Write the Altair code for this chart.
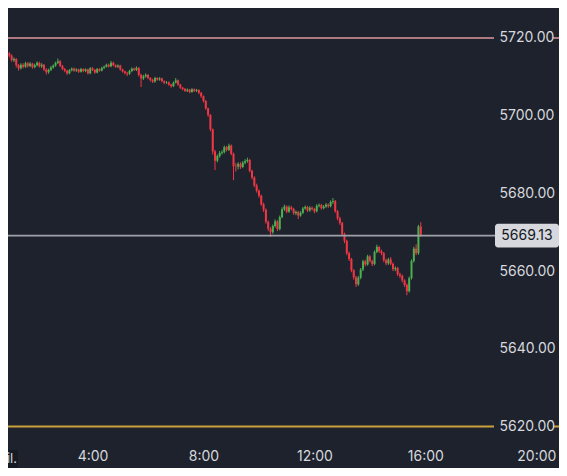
import altair as alt
import pandas as pd

# ---------------- data (5-minute bars, first bar at 0:50) ----------------
start_hour = 50 / 60
bar_step = 5 / 60

close = [
    5716.9, 5716.0, 5715.5, 5714.3, 5714.6, 5713.0, 5712.2, 5713.1, 5712.6, 5713.5,
    5712.8, 5713.4, 5712.5, 5713.0, 5713.6, 5712.7, 5713.1, 5711.9, 5711.2, 5711.8,
    5712.4, 5712.9, 5713.6, 5714.0, 5712.8, 5712.0, 5711.6, 5710.9, 5711.7, 5712.1,
    5711.6, 5711.9, 5711.3, 5712.0, 5711.5, 5711.9, 5710.9, 5712.2, 5711.8, 5711.1,
    5712.0, 5711.6, 5712.3, 5712.6, 5713.1, 5712.7, 5713.6, 5713.0, 5712.6, 5712.9,
    5711.9, 5711.4, 5711.0, 5710.8, 5711.5, 5712.1, 5711.8, 5712.3, 5710.5, 5709.6,
    5710.1, 5710.5, 5709.7, 5709.2, 5708.8, 5709.7, 5709.3, 5709.6, 5708.9, 5708.5,
    5708.6, 5708.0, 5707.6, 5708.5, 5709.1, 5708.0, 5707.2, 5706.9, 5706.4, 5706.7,
    5706.1, 5706.8, 5706.4, 5706.6, 5705.9, 5705.0, 5703.8, 5701.9, 5700.2, 5696.5,
    5690.8, 5688.4, 5689.6, 5690.4, 5690.6, 5691.9, 5691.2, 5692.3, 5690.2, 5687.0,
    5686.9, 5687.6, 5686.8, 5687.9, 5688.3, 5688.6, 5685.8, 5684.1, 5682.0, 5680.7,
    5679.4, 5677.2, 5675.8, 5672.7, 5670.9, 5670.0, 5671.6, 5672.8, 5670.8, 5673.9,
    5675.9, 5676.6, 5675.3, 5676.4, 5676.0, 5674.9, 5675.2, 5674.3, 5675.0, 5676.1,
    5676.5, 5675.6, 5676.3, 5676.0, 5675.4, 5676.8, 5677.0, 5676.2, 5676.6, 5677.1,
    5676.7, 5677.8, 5678.0, 5675.4, 5673.6, 5672.4, 5669.5, 5667.8, 5664.6, 5663.1,
    5660.2, 5658.4, 5656.6, 5658.3, 5660.4, 5662.5, 5661.7, 5663.8, 5662.6, 5661.8,
    5664.9, 5666.2, 5665.1, 5664.6, 5662.8, 5662.0, 5663.0, 5661.9, 5660.5, 5660.8,
    5659.2, 5658.8, 5657.6, 5656.4, 5654.8, 5658.2, 5662.6, 5665.8, 5664.6, 5671.5,
    5669.13,
]

open_ = [
    5716.3, 5716.9, 5716.0, 5715.5, 5714.3, 5714.6, 5713.0, 5712.2, 5713.1, 5712.6,
    5713.5, 5712.8, 5713.4, 5712.5, 5713.0, 5713.6, 5712.7, 5713.1, 5711.9, 5711.2,
    5711.8, 5712.4, 5712.9, 5713.6, 5714.0, 5712.8, 5712.0, 5711.6, 5710.9, 5711.7,
    5712.1, 5711.6, 5711.9, 5711.3, 5712.0, 5711.5, 5711.9, 5710.9, 5712.2, 5711.8,
    5711.1, 5712.0, 5711.6, 5712.3, 5712.6, 5713.1, 5712.7, 5713.6, 5713.0, 5712.6,
    5712.9, 5711.9, 5711.4, 5711.0, 5710.8, 5711.5, 5712.1, 5711.8, 5712.3, 5710.5,
    5709.6, 5710.1, 5710.5, 5709.7, 5709.2, 5708.8, 5709.7, 5709.3, 5709.6, 5708.9,
    5708.5, 5708.6, 5708.0, 5707.6, 5708.5, 5709.1, 5708.0, 5707.2, 5706.9, 5706.4,
    5706.7, 5706.1, 5706.8, 5706.4, 5706.6, 5705.9, 5705.0, 5703.8, 5701.9, 5700.2,
    5696.5, 5690.8, 5688.4, 5689.6, 5690.4, 5690.6, 5691.9, 5691.2, 5692.3, 5690.2,
    5687.0, 5686.9, 5687.6, 5686.8, 5687.9, 5688.3, 5688.6, 5685.8, 5684.1, 5682.0,
    5680.7, 5679.4, 5677.2, 5675.8, 5672.7, 5670.9, 5670.0, 5671.6, 5672.8, 5670.8,
    5673.9, 5675.9, 5676.6, 5675.3, 5676.4, 5676.0, 5674.9, 5675.2, 5674.3, 5675.0,
    5676.1, 5676.5, 5675.6, 5676.3, 5676.0, 5675.4, 5676.8, 5677.0, 5676.2, 5676.6,
    5677.1, 5676.7, 5677.8, 5678.0, 5675.4, 5673.6, 5672.4, 5669.5, 5667.8, 5664.6,
    5663.1, 5660.2, 5658.4, 5656.6, 5658.3, 5660.4, 5662.5, 5661.7, 5663.8, 5662.6,
    5661.8, 5664.9, 5666.2, 5665.1, 5664.6, 5662.8, 5662.0, 5663.0, 5661.9, 5660.5,
    5660.8, 5659.2, 5658.8, 5657.6, 5656.4, 5654.8, 5658.2, 5662.6, 5665.8, 5664.6,
    5671.5,
]

high = [
    5717.4, 5717.2, 5716.4, 5715.8, 5715.0, 5714.8, 5713.3, 5713.5, 5713.5, 5713.9,
    5713.8, 5713.8, 5713.6, 5713.4, 5714.0, 5713.9, 5713.5, 5713.3, 5712.2, 5712.1,
    5712.8, 5713.2, 5713.9, 5714.7, 5714.3, 5713.1, 5712.3, 5711.8, 5712.0, 5712.4,
    5712.4, 5712.2, 5712.1, 5712.3, 5712.2, 5712.2, 5712.1, 5712.5, 5712.5, 5712.0,
    5712.3, 5712.2, 5712.6, 5712.9, 5713.4, 5713.4, 5714.1, 5713.9, 5713.2, 5713.2,
    5713.1, 5712.1, 5711.6, 5711.3, 5711.8, 5712.4, 5712.4, 5712.7, 5712.5, 5710.8,
    5710.5, 5710.9, 5710.7, 5709.9, 5709.5, 5710.0, 5709.9, 5709.9, 5709.8, 5709.1,
    5708.9, 5708.8, 5708.2, 5708.8, 5709.7, 5709.3, 5708.2, 5707.4, 5707.1, 5707.0,
    5706.9, 5707.1, 5707.0, 5706.9, 5706.8, 5706.1, 5705.2, 5704.0, 5702.1, 5700.4,
    5696.7, 5691.2, 5690.0, 5690.9, 5691.1, 5692.3, 5692.2, 5692.8, 5692.6, 5690.5,
    5687.8, 5688.0, 5688.0, 5688.3, 5688.8, 5689.2, 5688.9, 5686.1, 5684.4, 5682.5,
    5681.0, 5679.7, 5677.6, 5676.1, 5673.0, 5671.3, 5672.0, 5673.3, 5673.1, 5674.3,
    5676.4, 5677.1, 5676.9, 5676.9, 5676.8, 5676.3, 5675.6, 5675.5, 5675.4, 5676.5,
    5676.9, 5676.8, 5676.7, 5676.6, 5676.3, 5677.2, 5677.4, 5677.3, 5677.0, 5677.5,
    5677.4, 5678.2, 5678.8, 5678.3, 5675.7, 5674.0, 5672.7, 5669.9, 5668.1, 5665.0,
    5663.4, 5660.5, 5658.8, 5658.7, 5660.8, 5662.9, 5662.9, 5664.2, 5664.1, 5662.9,
    5665.3, 5666.8, 5666.5, 5665.5, 5664.9, 5663.2, 5663.4, 5663.6, 5662.2, 5661.2,
    5661.1, 5659.6, 5659.1, 5657.9, 5656.8, 5658.6, 5663.0, 5666.3, 5666.9, 5671.9,
    5672.6,
]

low = [
    5715.9, 5715.6, 5715.0, 5713.9, 5713.8, 5712.4, 5711.6, 5711.9, 5712.2, 5712.3,
    5712.4, 5712.5, 5712.1, 5712.2, 5712.7, 5712.4, 5712.3, 5711.5, 5710.6, 5710.8,
    5711.5, 5712.1, 5712.6, 5713.3, 5712.5, 5711.7, 5711.2, 5710.5, 5710.7, 5711.4,
    5711.3, 5711.3, 5711.0, 5711.1, 5711.2, 5711.2, 5710.6, 5710.7, 5711.5, 5710.8,
    5710.9, 5711.3, 5711.4, 5712.0, 5712.4, 5712.4, 5712.5, 5712.7, 5712.3, 5712.3,
    5711.6, 5711.1, 5710.6, 5710.2, 5710.5, 5711.2, 5711.5, 5711.5, 5710.1, 5707.4,
    5709.2, 5709.8, 5709.4, 5708.8, 5708.4, 5708.5, 5709.0, 5709.0, 5708.6, 5708.1,
    5708.2, 5707.7, 5707.2, 5707.4, 5708.3, 5707.7, 5706.9, 5706.5, 5706.1, 5706.1,
    5705.8, 5705.9, 5706.1, 5706.1, 5705.5, 5704.6, 5703.4, 5701.5, 5699.7, 5696.0,
    5690.0, 5686.0, 5688.0, 5689.2, 5690.0, 5690.3, 5690.8, 5690.9, 5689.8, 5683.4,
    5685.6, 5686.2, 5686.3, 5686.5, 5687.5, 5687.9, 5685.4, 5683.6, 5681.6, 5680.2,
    5678.9, 5676.8, 5675.2, 5672.2, 5670.3, 5668.8, 5669.6, 5671.2, 5670.3, 5670.5,
    5673.6, 5675.5, 5674.9, 5675.0, 5675.6, 5674.5, 5674.4, 5673.4, 5674.0, 5674.7,
    5675.8, 5675.2, 5675.3, 5675.6, 5674.9, 5675.1, 5676.4, 5675.8, 5675.9, 5676.3,
    5676.3, 5676.4, 5677.3, 5675.0, 5673.1, 5671.9, 5669.0, 5667.2, 5664.1, 5662.6,
    5659.7, 5657.8, 5655.9, 5656.2, 5657.9, 5660.0, 5661.2, 5661.4, 5662.2, 5661.3,
    5661.5, 5664.6, 5664.7, 5664.1, 5662.3, 5661.5, 5661.6, 5661.5, 5660.0, 5660.0,
    5658.7, 5658.2, 5657.1, 5655.9, 5653.8, 5654.5, 5657.8, 5662.2, 5664.1, 5664.2,
    5668.8,
]

y_ticks = [5620, 5640, 5660, 5680, 5700, 5720]
x_ticks = [4, 8, 12, 16, 20]
last_price = 5669.13
upper_level = 5720.0
lower_level = 5620.0
date_label = "juil."

# ---------------- styling ----------------
BG = "#1e222c"
TXT = "#d6d8de"
UP = "#4caf50"
DOWN = "#f23645"
FONT = "Inter"
W, H = 551, 460
X_DOMAIN = [1.1327, 20.637]
Y_DOMAIN = [5609.32, 5727.72]

n = len(close)
bars = pd.DataFrame({
    "t": [start_hour + i * bar_step for i in range(n)],
    "open": open_, "high": high, "low": low, "close": close,
})

xscale = alt.Scale(domain=X_DOMAIN, nice=False, zero=False)
yscale = alt.Scale(domain=Y_DOMAIN, nice=False, zero=False)

x_axis = alt.Axis(
    values=x_ticks, labelExpr="datum.value + ':00'", orient="bottom", offset=-21,
    domain=False, ticks=False, tickSize=0, grid=False, labelPadding=13,
    labelBaseline="alphabetic",
    labelFontSize=14, labelColor=TXT, labelFont=FONT, zindex=3, labelFlush=False,
)
y_axis = alt.Axis(
    values=y_ticks, format=".2f", orient="right", offset=-60,
    domain=False, ticks=False, tickSize=0, grid=False, labelPadding=0,
    labelFontSize=14, labelColor=TXT, labelFont=FONT, labelAlign="left",
    labelBaseline="middle", zindex=3, labelFlush=False,
)

color_cond = alt.condition(alt.datum.close >= alt.datum.open, alt.value(UP), alt.value(DOWN))

base = alt.Chart(bars)
wicks = base.mark_rule(strokeWidth=1, clip=True).encode(
    x=alt.X("t:Q", scale=xscale, axis=x_axis, title=None),
    y=alt.Y("low:Q", scale=yscale, axis=y_axis, title=None),
    y2="high:Q",
    color=color_cond,
)
bodies = base.mark_bar(size=2, clip=True).encode(
    x=alt.X("t:Q", title=None),
    y=alt.Y("open:Q", title=None),
    y2="close:Q",
    color=color_cond,
)

levels = pd.DataFrame({"price": [upper_level, last_price, lower_level],
                       "kind": ["upper", "last", "lower"]})
level_rules = alt.Chart(levels).mark_rule().encode(
    y=alt.Y("price:Q", title=None),
    color=alt.Color("kind:N", scale=alt.Scale(domain=["upper", "last", "lower"],
                                              range=["#e0979f", "#9ea1aa", "#c9a13f"]), legend=None),
    strokeWidth=alt.StrokeWidth("kind:N", scale=alt.Scale(domain=["upper", "last", "lower"],
                                                          range=[1.5, 2, 3]), legend=None),
)

label_bg = alt.Chart(pd.DataFrame({"price": [upper_level, lower_level]})).mark_rule(
    strokeWidth=20, color=BG
).encode(y=alt.Y("price:Q", title=None), x=alt.value(486), x2=alt.value(545))

last_df = pd.DataFrame({"price": [last_price], "lo": [last_price - 3.05],
                        "hi": [last_price + 3.05], "label": [f"{last_price:.2f}"]})
last_box = alt.Chart(last_df).mark_rect(cornerRadius=3, color="#d6d8de").encode(
    y=alt.Y("lo:Q", title=None), y2="hi:Q", x=alt.value(487), x2=alt.value(551)
)
last_text = alt.Chart(last_df).mark_text(
    font=FONT, fontSize=14, color="#131722", align="center", baseline="middle"
).encode(y=alt.Y("price:Q", title=None), x=alt.value(519), text="label:N")

date_df = pd.DataFrame({"label": [date_label]})
date_box = alt.Chart(date_df).mark_rect(color="#161a23").encode(
    x=alt.value(0), x2=alt.value(10), y=alt.value(442), y2=alt.value(460)
)
date_text = alt.Chart(date_df).mark_text(
    font=FONT, fontSize=13, color=TXT, align="right", baseline="alphabetic"
).encode(x=alt.value(9), y=alt.value(455), text="label:N")

chart = alt.layer(
    wicks, bodies, level_rules, label_bg, last_box, last_text, date_box, date_text
).properties(
    width=W, height=H, autosize=alt.AutoSizeParams(type="none"), padding=0,
).configure(background=BG).configure_view(stroke=None, fill=BG)

chart.save("out.html", embed_options={"renderer": "svg", "actions": False})
